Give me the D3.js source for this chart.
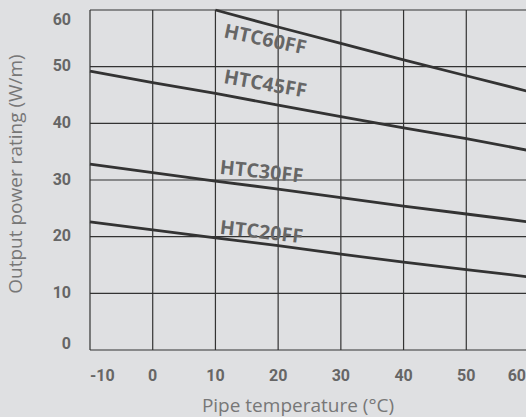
<!DOCTYPE html>
<html><head><meta charset="utf-8">
<script src="https://cdn.jsdelivr.net/npm/d3@7"></script>
<style>
html,body{margin:0;padding:0;background:#dfe0e2;overflow:hidden;}
svg{display:block;}
</style></head>
<body>
<script>
const temps = [-10, 0, 10, 20, 30, 40, 50, 60];
const seriesNames = ["HTC60FF", "HTC45FF", "HTC30FF", "HTC20FF"];
const htc60 = [null, null, 60, 57.0, 54.1, 51.2, 48.4, 45.6];
const htc45 = [49.2, 47.2, 45.3, 43.2, 41.2, 39.2, 37.3, 35.2];
const htc30 = [32.8, 31.3, 29.8, 28.4, 26.9, 25.4, 24.0, 22.6];
const htc20 = [22.6, 21.2, 19.8, 18.4, 16.9, 15.5, 14.2, 12.9];
const labelTemp = [11.2, 11.2, 10.6, 10.6];
const labelValue = [55.2, 47.1, 31.1, 20.5];
const labelAngle = [12, 10, 6, 6.5];
const xTicks = [-10, 0, 10, 20, 30, 40, 50, 60];
const yTicks = [0, 10, 20, 30, 40, 50, 60];
const xTitle = "Pipe temperature (°C)";
const yTitle = "Output power rating (W/m)";

const W = 526, H = 417;
const svg = d3.select("body").append("svg").attr("width", W).attr("height", H);
svg.append("rect").attr("width", W).attr("height", H).attr("fill", "#dfe0e2");

const x = d3.scaleLinear().domain([-10, 60]).range([90, 529]);
const y = d3.scaleLinear().domain([0, 60]).range([350, 10]);

const grid = svg.append("g").attr("stroke", "#333").attr("stroke-width", 1.2);
grid.selectAll("line.v").data(xTicks).join("line").attr("class", "v")
  .attr("x1", d => x(d)).attr("x2", d => x(d)).attr("y1", y(60)).attr("y2", y(0));
grid.selectAll("line.h").data(yTicks).join("line").attr("class", "h")
  .attr("y1", d => y(d)).attr("y2", d => y(d)).attr("x1", x(-10)).attr("x2", x(60));

const all = [htc60, htc45, htc30, htc20];
const line = d3.line().defined(d => d[1] != null).x(d => x(d[0])).y(d => y(d[1]));
svg.append("g").selectAll("path").data(all).join("path")
  .attr("d", vals => line(temps.map((t, i) => [t, vals[i]])))
  .attr("fill", "none").attr("stroke", "#333").attr("stroke-width", 2.8);

svg.append("g").selectAll("text").data(seriesNames).join("text")
  .attr("transform", (d, i) => `translate(${x(labelTemp[i])},${y(labelValue[i])}) rotate(${labelAngle[i]})`)
  .attr("font-family", "'Open Sans', sans-serif").attr("font-weight", 700)
  .attr("font-size", 19.5).attr("letter-spacing", 0.2).attr("fill", "#666")
  .text(d => d);

// tick labels
const tickFont = "Roboto, sans-serif";
svg.append("g").selectAll("text").data(yTicks).join("text")
  .attr("x", 71).attr("y", d => y(d) + (d === 60 ? 9 : d === 0 ? -7 : -1))
  .attr("dy", "0.35em").attr("text-anchor", "end")
  .attr("font-family", tickFont).attr("font-weight", 700).attr("font-size", 16)
  .attr("fill", "#666").text(d => d);
svg.append("g").selectAll("text").data(xTicks).join("text")
  .attr("x", d => d === -10 ? x(d) : d === 60 ? 526 : x(d))
  .attr("y", 375).attr("dy", "0.35em")
  .attr("text-anchor", d => d === -10 ? "start" : d === 60 ? "end" : "middle")
  .attr("font-family", tickFont).attr("font-weight", 700).attr("font-size", 16)
  .attr("fill", "#666").text(d => d);

svg.append("text").attr("x", 298).attr("y", 405).attr("dy", "0.35em")
  .attr("text-anchor", "middle").attr("font-family", "'Open Sans', sans-serif")
  .attr("font-size", 19).attr("fill", "#777").text(xTitle);
svg.append("text").attr("transform", "translate(15,174) rotate(-90)").attr("dy", "0.35em")
  .attr("text-anchor", "middle").attr("font-family", "'Open Sans', sans-serif")
  .attr("font-size", 19).attr("fill", "#777").text(yTitle);
</script>
</body></html>
